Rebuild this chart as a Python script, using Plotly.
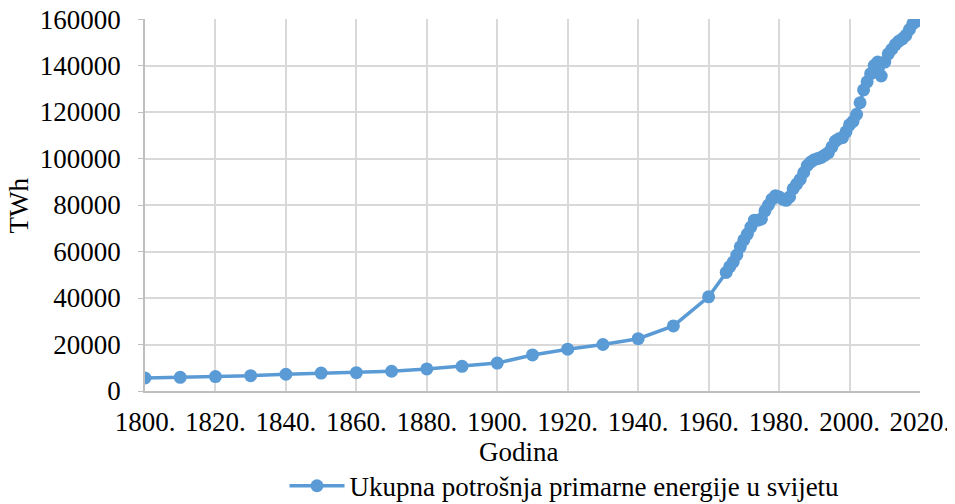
import plotly.graph_objects as go

years = [1800, 1810, 1820, 1830, 1840, 1850, 1860, 1870, 1880, 1890, 1900, 1910,
         1920, 1930, 1940, 1950, 1960] + list(range(1965, 2020))
values = [5600, 5900, 6200, 6600, 7200, 7700, 7900, 8500, 9500, 10600, 12000, 15500,
          18000, 20000, 22500, 28000, 40500,
          # 1965-2019
          51000, 53500, 55500, 58500, 62000, 65000, 67500, 70500, 73500, 73500,
          74000, 77500, 80000, 82500, 84000, 83500, 82500, 82000, 83500, 87000,
          89000, 91000, 94000, 97000, 98500, 99500, 100000, 100500, 101500, 102500,
          105000, 107500, 108500, 109000, 111500, 114500, 116000, 119000, 124000, 129500,
          133000, 136500, 140000, 141500, 135500, 141500, 145000, 147000, 149000, 150500,
          151500, 153000, 155500, 158000, 159000]

x_ticks = list(range(1800, 2021, 20))
x_tick_labels = [f"{y}." for y in x_ticks]
y_ticks = list(range(0, 160001, 20000))
y_tick_labels = [str(v) for v in y_ticks]

series_name = "Ukupna potrošnja primarne energije u svijetu"
x_title = "Godina"
y_title = "TWh"
color = "#5B9BD5"

fig = go.Figure()
fig.add_trace(go.Scatter(
    x=years, y=values, mode="lines+markers", name=series_name,
    line=dict(color=color, width=3.5),
    marker=dict(color=color, size=13),
))

font = dict(family="Times New Roman, Liberation Serif, serif", size=27, color="#000000")
fig.update_layout(
    width=947, height=496,
    margin=dict(l=137, r=35, t=11, b=113, autoexpand=False),
    paper_bgcolor="white", plot_bgcolor="white",
    font=font,
    showlegend=True,
    legend=dict(orientation="h", x=0.18, xanchor="left", y=-0.19, yanchor="top",
                itemwidth=55, font=font, bgcolor="rgba(0,0,0,0)"),
    xaxis=dict(range=[1800, 2020.01], tickvals=x_ticks, ticktext=x_tick_labels,
               tickfont=font, ticklabeloverflow="allow", ticklabelstandoff=6,
               showgrid=True, gridcolor="#d9d9d9", gridwidth=1.5,
               showline=True, linecolor="#bfbfbf", linewidth=1.5,
               ticks="", automargin=False, zeroline=False),
    yaxis=dict(range=[0, 160020], tickvals=y_ticks, ticktext=y_tick_labels,
               tickfont=font, ticklabeloverflow="allow",
               showgrid=True, gridcolor="#d9d9d9", gridwidth=1.5,
               showline=True, linecolor="#bfbfbf", linewidth=1.5,
               ticks="outside", ticklen=5, tickcolor="#bfbfbf",
               ticklabelstandoff=12,
               automargin=False, zeroline=False),
    annotations=[
        dict(text=x_title, xref="paper", yref="paper", x=0.483, y=-0.164,
             xanchor="center", yanchor="middle", showarrow=False, font=font),
        dict(text=y_title, xref="paper", yref="paper", x=-0.162, y=0.5,
             xanchor="center", yanchor="middle", showarrow=False, font=font,
             textangle=-90),
    ],
)

fig.write_html("out.html")
